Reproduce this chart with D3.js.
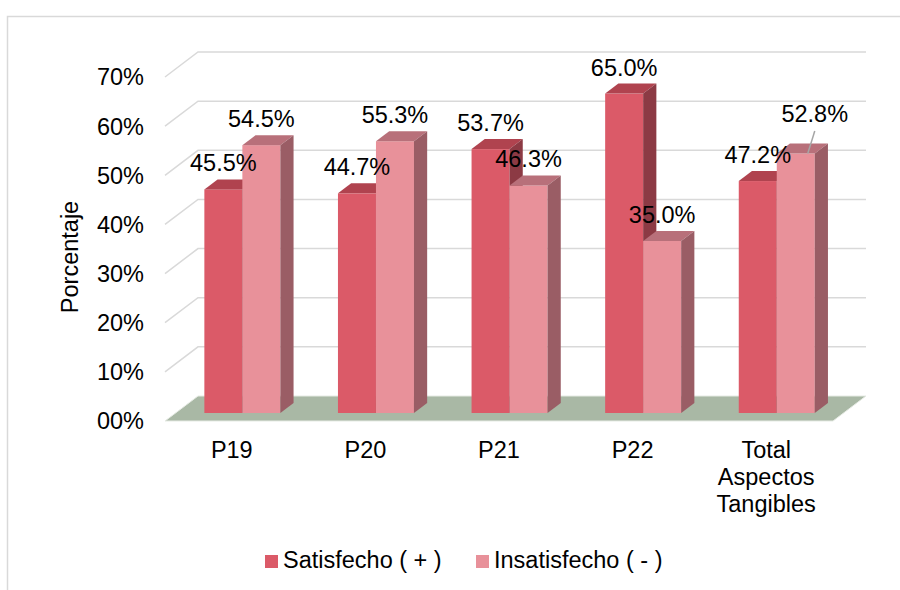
<!DOCTYPE html>
<html lang="es">
<head>
    <meta charset="UTF-8">
    <title>Aspectos Tangibles</title>
    <script src="https://d3js.org/d3.v7.min.js"></script>
    <style>
        body { margin: 0; background: #fff; }
        svg { display: block; font-family: Arial, "Liberation Sans", sans-serif; }
        .grid { stroke: #d9d9d9; stroke-width: 1.5; fill: none; }
        .tick-label, .cat-label, .value-label, .legend-label, .axis-title {
            font-size: 23.5px;
            fill: #000;
        }
    </style>
</head>
<body>
    <svg width="900" height="590"></svg>

    <script>
        // Data
        const categories = ["P19", "P20", "P21", "P22", "Total Aspectos Tangibles"];
        const satisfecho = [45.5, 44.7, 53.7, 65.0, 47.2];
        const insatisfecho = [54.5, 55.3, 46.3, 35.0, 52.8];
        const seriesNames = ["Satisfecho ( + )", "Insatisfecho ( - )"];
        const yTicks = [0, 10, 20, 30, 40, 50, 60, 70];
        const yTickLabels = ["00%", "10%", "20%", "30%", "40%", "50%", "60%", "70%"];

        // Colours: front, top, side
        const palette = [
            { front: "#db5a68", top: "#b0434f", side: "#8c3a44" },
            { front: "#e8919a", top: "#b8707a", side: "#9a5d65" }
        ];

        const svg = d3.select("svg");

        // 3D depth of the plot (back wall offset)
        const depthX = 33, depthY = -25;
        const barFront = 0.32, barBack = 0.72; // fraction of depth the bars occupy

        const x = d3.scaleBand().domain(categories).range([165, 833]);
        const y = d3.scaleLinear().domain([0, 70]).range([421, 77]);
        const barW = 38;

        // chart frame (only top/left edges visible in the picture)
        svg.append("rect")
            .attr("x", 7.5).attr("y", 16.5)
            .attr("width", 1000).attr("height", 700)
            .attr("fill", "none")
            .attr("stroke", "#d9d9d9")
            .attr("stroke-width", 1.5);

        // gridlines: side wall diagonal + back wall horizontal
        const x0 = x.range()[0], x1 = x.range()[1];
        svg.append("g").selectAll("path")
            .data(yTicks.filter(d => d > 0))
            .join("path")
            .attr("class", "grid")
            .attr("d", d => `M${x0},${y(d)} L${x0 + depthX},${y(d) + depthY} L${x1 + depthX},${y(d) + depthY}`);

        // floor
        svg.append("path")
            .attr("d", `M${x0},${y(0)} L${x0 + depthX},${y(0) + depthY} L${x1 + depthX},${y(0) + depthY} L${x1},${y(0)} Z`)
            .attr("fill", "#a9b8a5")
            .attr("stroke", "#e6ebe4")
            .attr("stroke-width", 1);

        // y tick labels
        svg.append("g").selectAll("text")
            .data(yTicks)
            .join("text")
            .attr("class", "tick-label")
            .attr("x", 144)
            .attr("y", d => y(d))
            .attr("dy", "0.36em")
            .attr("text-anchor", "end")
            .text((d, i) => yTickLabels[i]);

        // y axis title
        svg.append("text")
            .attr("class", "axis-title")
            .attr("transform", "translate(78,257) rotate(-90)")
            .attr("text-anchor", "middle")
            .text("Porcentaje");

        // bars
        const fx = barFront * depthX, fy = barFront * depthY;
        const bx = (barBack - barFront) * depthX, by = (barBack - barFront) * depthY;

        const bars = [];
        categories.forEach((c, i) => {
            [satisfecho[i], insatisfecho[i]].forEach((v, s) => {
                const left = x(c) + x.bandwidth() / 2 - barW + s * barW + fx;
                bars.push({ cat: c, s, v, left, top: y(v) + fy, bottom: y(0) + fy });
            });
        });

        const barG = svg.append("g").selectAll("g")
            .data(bars)
            .join("g");

        barG.append("rect")
            .attr("x", d => d.left)
            .attr("y", d => d.top)
            .attr("width", barW)
            .attr("height", d => d.bottom - d.top)
            .attr("fill", d => palette[d.s].front);

        barG.append("path")
            .attr("d", d => `M${d.left},${d.top} L${d.left + bx},${d.top + by} L${d.left + barW + bx},${d.top + by} L${d.left + barW},${d.top} Z`)
            .attr("fill", d => palette[d.s].top);

        barG.append("path")
            .attr("d", d => `M${d.left + barW},${d.top} L${d.left + barW + bx},${d.top + by} L${d.left + barW + bx},${d.bottom + by} L${d.left + barW},${d.bottom} Z`)
            .attr("fill", d => palette[d.s].side);

        // value labels
        const fmt = d => d.toFixed(1) + "%";
        const isMoved = d => d.cat === categories[4] && d.s === 1;
        svg.append("g").selectAll("text")
            .data(bars)
            .join("text")
            .attr("class", "value-label")
            .attr("x", d => d.left + barW / 2 + (isMoved(d) ? 19 : 0))
            .attr("y", d => isMoved(d) ? 122 : d.top - 18)
            .attr("text-anchor", "middle")
            .text(d => fmt(d.v));

        // leader line for the moved label
        const moved = bars.find(isMoved);
        svg.append("line")
            .attr("x1", moved.left + barW / 2 + 19).attr("y1", 131)
            .attr("x2", moved.left + barW / 2 + 12).attr("y2", moved.top)
            .attr("stroke", "#a6a6a6")
            .attr("stroke-width", 1.5);

        // category labels
        const catText = svg.append("g").selectAll("text")
            .data(categories)
            .join("text")
            .attr("class", "cat-label")
            .attr("text-anchor", "middle")
            .attr("x", d => x(d) + x.bandwidth() / 2)
            .attr("y", 458);

        catText.each(function(d) {
            const t = d3.select(this);
            d.split(" ").forEach((w, i) => {
                t.append("tspan")
                    .attr("x", x(d) + x.bandwidth() / 2)
                    .attr("dy", i === 0 ? 0 : 27)
                    .text(w);
            });
        });

        // legend
        const legendX = [265, 476];
        const legend = svg.append("g").selectAll("g")
            .data(seriesNames)
            .join("g")
            .attr("transform", (d, i) => `translate(${legendX[i]},555)`);

        legend.append("rect")
            .attr("width", 13).attr("height", 13)
            .attr("fill", (d, i) => palette[i].front);

        legend.append("text")
            .attr("class", "legend-label")
            .attr("x", 18)
            .attr("y", 13)
            .text(d => d);
    </script>
</body>
</html>
